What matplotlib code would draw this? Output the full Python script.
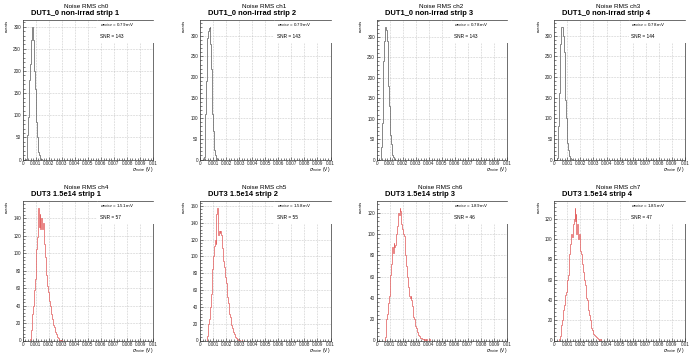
import matplotlib
matplotlib.use("Agg")
import matplotlib.pyplot as plt
from matplotlib.ticker import MultipleLocator, FuncFormatter
from matplotlib.patches import Rectangle
import numpy as np

plt.rcParams['font.family'] = ['Liberation Sans', 'DejaVu Sans']

# histogram bins: 0 .. 0.01 V, width 0.05 mV
bin_width = 0.00005
n_bins = 200

# bin contents (starting at 0 V), the remaining bins are empty
ch0 = [0, 0, 0, 0, 0, 2, 20, 55, 95, 140, 180, 215, 250, 270, 290, 300, 270, 235, 200, 160,
       115, 85, 50, 30, 18, 10, 5, 2, 1]
ch1 = [0, 0, 0, 0, 0, 0, 5, 40, 110, 190, 260, 295, 305, 312, 318, 322, 280, 220, 160, 110,
       70, 40, 22, 12, 6, 3, 1]
ch2 = [0, 0, 0, 0, 0, 0, 3, 30, 90, 170, 240, 290, 315, 325, 320, 318, 290, 240, 180, 130,
       90, 60, 38, 22, 12, 6, 3, 1]
ch3 = [0, 0, 0, 0, 3, 25, 80, 160, 230, 280, 305, 320, 322, 318, 300, 260, 200, 145, 100, 65,
       40, 24, 14, 8, 4, 2, 1]
ch4 = [0, 0, 0, 0, 0, 0, 0, 0, 0, 0, 0, 2, 5, 12, 20, 30, 40, 50, 58, 70,
       90, 105, 118, 135, 152, 130, 145, 128, 140, 132, 128, 135, 125, 110, 95, 80, 75, 68, 62, 55,
       52, 45, 40, 35, 30, 25, 21, 18, 15, 13, 10, 8, 6, 4, 3, 2, 1, 1, 0, 1]
ch5 = [0, 0, 0, 0, 0, 0, 0, 0, 0, 0, 2, 5, 12, 20, 25, 32, 40, 55, 70, 85,
       100, 110, 112, 120, 115, 150, 158, 155, 125, 130, 128, 130, 125, 118, 110, 100, 95, 88, 80, 75,
       68, 60, 52, 45, 40, 32, 28, 22, 18, 15, 12, 10, 8, 6, 4, 3, 2, 2, 1, 1,
       0, 1, 0, 0, 1]
ch6 = [0, 0, 0, 0, 0, 0, 0, 0, 0, 0, 0, 0, 1, 3, 10, 20, 25, 30, 35, 42,
       50, 62, 72, 80, 88, 82, 92, 88, 90, 95, 100, 108, 115, 120, 118, 125, 122, 112, 110, 105,
       102, 100, 98, 88, 80, 70, 65, 60, 50, 45, 42, 40, 42, 38, 32, 28, 22, 20, 16, 14,
       12, 10, 8, 6, 5, 4, 3, 2, 2, 1, 1, 1, 0, 1, 0, 0, 1, 0, 0, 0, 1]
ch7 = [0, 0, 0, 0, 0, 0, 0, 1, 2, 4, 8, 15, 20, 25, 30, 35, 40, 45, 48, 55,
       60, 65, 75, 85, 95, 100, 105, 102, 108, 115, 120, 131, 118, 125, 105, 115, 110, 100, 105, 95,
       88, 85, 80, 75, 68, 62, 60, 55, 48, 42, 40, 35, 30, 25, 22, 20, 18, 12, 10, 8,
       6, 5, 5, 4, 3, 2, 2, 1, 1, 0, 1]

channels = ["ch0", "ch1", "ch2", "ch3", "ch4", "ch5", "ch6", "ch7"]
counts = [ch0, ch1, ch2, ch3, ch4, ch5, ch6, ch7]
titles = ["DUT1_0 non-irrad strip 1", "DUT1_0 non-irrad strip 2",
          "DUT1_0 non-irrad strip 3", "DUT1_0 non-irrad strip 4",
          "DUT3 1.5e14 strip 1", "DUT3 1.5e14 strip 2",
          "DUT3 1.5e14 strip 3", "DUT3 1.5e14 strip 4"]
sigma_mV = ["0.79", "0.79", "0.78", "0.78", "1.51", "1.58", "1.89", "1.85"]
snr = [143, 143, 143, 144, 57, 55, 46, 47]

W, H = 689, 355
fig = plt.figure(figsize=(W / 100, H / 100), dpi=100)

col_left = [22.7, 200, 376.7, 554.3]
ax_w = 130.5
row_top = [20, 201]
ax_h = 139.5

edges = np.arange(n_bins + 1) * bin_width

for i in range(8):
    r, c = divmod(i, 4)
    left = col_left[c] / W
    bottom = 1 - (row_top[r] + ax_h) / H
    ax = fig.add_axes([left, bottom, ax_w / W, ax_h / H])

    vals = np.zeros(n_bins)
    vals[:len(counts[i])] = counts[i]
    color = '#666666' if r == 0 else '#e36464'
    ax.stairs(vals, edges, color=color, linewidth=0.55, zorder=2)

    ax.set_xlim(0, 0.01)
    ax.set_ylim(0, 1.05 * max(counts[i]))

    ax.xaxis.set_major_locator(MultipleLocator(0.001))
    ax.xaxis.set_minor_locator(MultipleLocator(0.0002))
    if r == 0:
        ax.yaxis.set_major_locator(MultipleLocator(50))
        ax.yaxis.set_minor_locator(MultipleLocator(10))
    else:
        ax.yaxis.set_major_locator(MultipleLocator(20))
        ax.yaxis.set_minor_locator(MultipleLocator(4))
    ax.xaxis.set_major_formatter(FuncFormatter(lambda v, p: f"{v:g}"))

    ax.tick_params(which='both', direction='in', labelsize=3.3, width=0.4,
                   pad=1.2, colors='#222222')
    ax.tick_params(which='major', length=2.2)
    ax.tick_params(which='minor', length=1.1)
    for s in ax.spines.values():
        s.set_linewidth(0.5)
        s.set_color('#333333')

    ax.grid(True, which='major', color='#b0b0b0', linestyle=(0, (1, 1.5)), linewidth=0.45)
    ax.set_axisbelow(True)

    # stats box
    ax.add_patch(Rectangle((0.57, 0.835), 0.44, 0.17, transform=ax.transAxes,
                           facecolor='white', edgecolor='none', clip_on=False, zorder=3))
    ax.plot([0.57, 1.0], [1.0, 1.0], transform=ax.transAxes, color='#333333',
            linewidth=0.5, clip_on=False, zorder=4)
    ax.text(0.59, 0.965, rf"$\sigma_{{noise}}$ = {sigma_mV[i]} mV", transform=ax.transAxes,
            fontsize=3.2, ha='left', va='center', zorder=5)
    ax.text(0.59, 0.88, f"SNR = {snr[i]}", transform=ax.transAxes,
            fontsize=3.4, ha='left', va='center', zorder=5)

    # titles
    ax.text(0.49, 1.097, f"Noise RMS {channels[i]}", transform=ax.transAxes,
            fontsize=4.6, ha='center', va='center')
    ax.text(0.061, 1.05, titles[i], transform=ax.transAxes,
            fontsize=5.4, fontweight='bold', ha='left', va='center')

    # axis titles
    ax.text(-0.12, 1.0, "events", transform=ax.transAxes, rotation=90,
            fontsize=3.0, ha='center', va='top')
    ax.text(1.0, -0.072, r"$\sigma_{noise}$ (V)", transform=ax.transAxes,
            fontsize=3.4, ha='right', va='center')

fig.savefig("out.png", dpi=100)
